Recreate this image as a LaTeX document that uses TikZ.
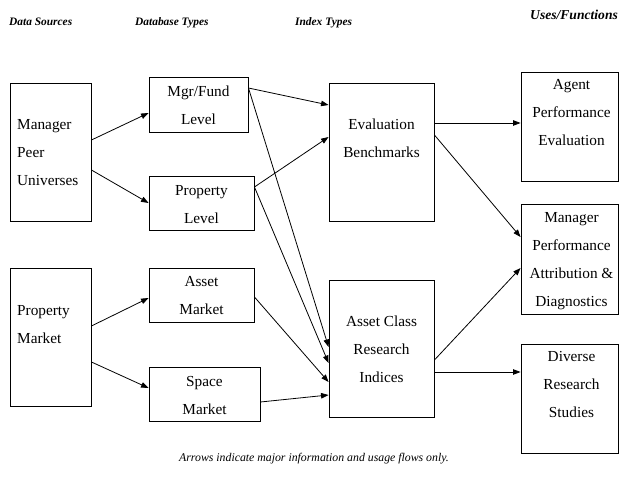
\documentclass[tikz,border=0pt]{standalone}
\usepackage{fontspec}
\setmainfont{Liberation Serif}
\usetikzlibrary{arrows.meta}

\newcommand\firstline{\rule{0pt}{11pt}}

\tikzset{
  box/.style={draw, line width=0.9pt, inner sep=0pt},
  boxtext/.style={inner sep=0pt, align=center, anchor=north,
    font=\fontsize{15.3}{28}\selectfont},
  lefttext/.style={boxtext, align=left, anchor=north west},
  header/.style={inner sep=0pt, anchor=base west,
    font=\fontsize{11.4}{13}\selectfont\bfseries\itshape},
  flow/.style={line width=0.8pt, -{Triangle[length=7.5pt,width=5.5pt]}},
}

\begin{document}
\begin{tikzpicture}[x=1pt, y=-1pt]
\useasboundingbox (0,0) rectangle (619,481);

% column headers
\node[header] (hsrc) at (9,26) {Data Sources};
\node[header] (hdb)  at (135,26) {Database Types};
\node[header] (hidx) at (295,26) {Index Types};
\node[header, font=\fontsize{13.6}{15}\selectfont\bfseries\itshape] (huse) at (530,19.5) {Uses/Functions};

% data sources
\node[box, minimum width=81pt, minimum height=138pt] (mpu) at (50.5,152) {};
\node[box, minimum width=81pt, minimum height=138pt] (pm)  at (50.5,337) {};
% database types
\node[box, minimum width=99pt,  minimum height=55pt] (mgr)   at (198.5,104.5) {};
\node[box, minimum width=105pt, minimum height=54pt] (prop)  at (201.5,203) {};
\node[box, minimum width=105pt, minimum height=54pt] (asset) at (201.5,295) {};
\node[box, minimum width=111pt, minimum height=54pt] (space) at (204.5,394) {};
% index types
\node[box, minimum width=105pt, minimum height=138pt] (eval) at (381.5,152) {};
\node[box, minimum width=105pt, minimum height=137pt] (acri) at (381.5,348.5) {};
% uses / functions
\node[box, minimum width=97pt, minimum height=109pt] (agent)   at (569.5,126.5) {};
\node[box, minimum width=97pt, minimum height=110pt] (mgrperf) at (569.5,259) {};
\node[box, minimum width=97pt, minimum height=109pt] (diverse) at (569.5,398.5) {};

% box labels
\node[lefttext] (tmpu) at (17,118.5) {\firstline Manager\\Peer\\Universes};
\node[lefttext] (tpm)  at (17,304.5) {\firstline Property\\Market};
\node[boxtext] (tmgr)   at (198.5,85.5) {\firstline Mgr/Fund\\Level};
\node[boxtext] (tprop)  at (201.5,184.5) {\firstline Property\\Level};
\node[boxtext] (tasset) at (201.5,275.5) {\firstline Asset\\Market};
\node[boxtext] (tspace) at (204.5,375.5) {\firstline Space\\Market};
\node[boxtext] (teval)  at (381.5,118.5) {\firstline Evaluation\\Benchmarks};
\node[boxtext] (tacri)  at (381.5,315.5) {\firstline Asset Class\\Research\\Indices};
\node[boxtext] (tagent) at (571.5,78.5) {\firstline Agent\\Performance\\Evaluation};
\node[boxtext] (tmgrperf) at (571.5,211.5) {\firstline Manager\\Performance\\Attribution \&\\Diagnostics};
\node[boxtext] (tdiverse) at (571.5,350.5) {\firstline Diverse\\Research\\Studies};

% flows: sources to database types
\draw[flow] ([yshift=12pt]mpu.east)  -- ([yshift=-8.5pt]mgr.west);
\draw[flow] ([yshift=-18pt]mpu.east) -- (prop.west);
\draw[flow] ([yshift=11pt]pm.east)   -- ([yshift=-3pt]asset.west);
\draw[flow] ([yshift=-25pt]pm.east)  -- ([yshift=6pt]space.west);

% flows: database types to index types
\draw[flow] ([yshift=16.5pt]mgr.east) -- ([yshift=47pt]eval.west);
\draw[flow] ([yshift=16.5pt]mgr.east) -- ([yshift=1.5pt]acri.west);
\draw[flow] ([yshift=16pt]prop.east)  -- ([yshift=15pt]eval.west);
\draw[flow] ([yshift=16pt]prop.east)  -- ([yshift=-14.5pt]acri.west);
\draw[flow] ([yshift=-2pt]asset.east) -- ([yshift=-33.5pt]acri.west);
\draw[flow] ([yshift=-8pt]space.east) -- ([yshift=-46.5pt]acri.west);

% flows: index types to uses
\draw[flow] ([yshift=29pt]eval.east)    -- ([yshift=3.5pt]agent.west);
\draw[flow] ([yshift=17pt]eval.east)    -- ([yshift=22pt]mgrperf.west);
\draw[flow] ([yshift=-11.5pt]acri.east) -- ([yshift=-9pt]mgrperf.west);
\draw[flow] ([yshift=-23.5pt]acri.east) -- ([yshift=26.5pt]diverse.west);

% note
\node[inner sep=0pt, anchor=base, font=\fontsize{11.8}{14}\selectfont\itshape] (note) at (314,461)
  {Arrows indicate major information and usage flows only.};
\end{tikzpicture}
\end{document}
